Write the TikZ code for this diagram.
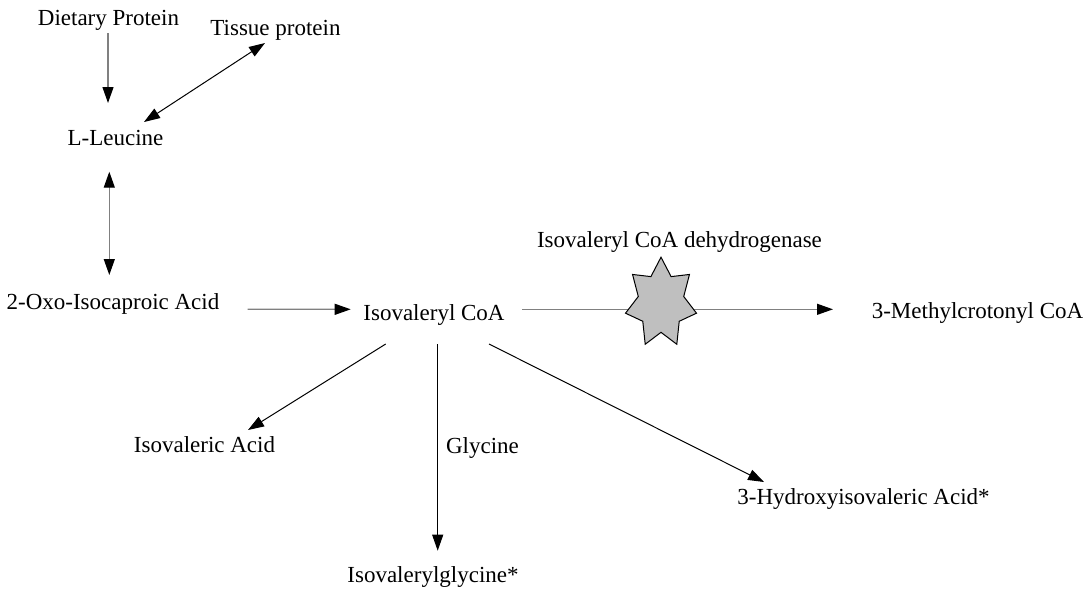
\documentclass[tikz,border=0pt]{standalone}
\usepackage{fontspec}
\setmainfont{Liberation Serif}
\usetikzlibrary{arrows.meta, calc}

\begin{document}
\begin{tikzpicture}[x=0.5pt,y=-0.5pt,
  every node/.style={font=\fontsize{11.5}{14}\selectfont,text height=1.5ex+2pt,text depth=.25ex},
  gline/.style={draw=gray,line width=0.6pt},
  bline/.style={draw=black,line width=0.5pt},
  tip/.style={-{Triangle[length=8pt,width=5.5pt,black]}},
  tips/.style={{Triangle[length=8pt,width=5.5pt,black]}-{Triangle[length=8pt,width=5.5pt,black]}},
  enzstar/.style={draw=black,fill=black!25,line width=0.5pt}]
  \useasboundingbox (0,0) rectangle (1090,591);
  \path (108.5,17.5) node (diet) {Dietary Protein} (275.5,27.5) node (tis) {Tissue protein}
  (115.5,137.5) node (leu) {L-Leucine} (113,302) node (oxo) {2-Oxo-Isocaproic Acid}
  (434,313) node (ivcoa) {Isovaleryl CoA} (977.5,311) node (mcc) {3-Methylcrotonyl CoA};
  \path (679.5,240) node (ivd) {Isovaleryl CoA dehydrogenase} (661,303) coordinate (star);
  \path (204.5,445) node (iva) {Isovaleric Acid} (482.5,446) node (gly) {Glycine}
  (863.5,497) node (hiva) {3-Hydroxyisovaleric Acid*} (433,575) node (ivg) {Isovalerylglycine*};
  \draw[gline,tip] ($(diet)+(-0.5,15.5)$) -- ($(leu)+(-7.5,-34.5)$);
  \draw[bline,tips] ($(leu)+(28.5,-15.5)$) -- ($(tis)+(-10.5,15.5)$);
  \draw[gline,tips] ($(leu)+(-6.2,34.2)$) -- ($(oxo)+(-3.7,-27)$);
  \draw[gline,tip] ($(oxo)+(134.7,7.3)$) -- ($(ivcoa)+(-83.3,-3.7)$);
  \draw[gline,tip] ($(ivcoa)+(88,-3.7)$) -- ($(mcc)+(-144.5,-1.7)$);
  \draw[bline,tip] ($(ivcoa)+(-48.3,31)$) -- ($(iva)+(43.5,-15)$);
  \draw[bline,tip] ($(ivcoa)+(3.7,31)$) -- ($(ivg)+(4.7,-24.3)$);
  \draw[bline,tip] ($(ivcoa)+(55,31)$) -- ($(hiva)+(-99.5,-15)$);
  % enzyme star
  \begin{scope}[shift={(star)}]
    \filldraw[enzstar] (-90:36.4 and 45.8) \foreach \a in {1,...,6}{
      -- (-90+\a*51.43-25.71:23.3 and 29.3) -- (-90+\a*51.43:36.4 and 45.8)}
      -- (-115.71:23.3 and 29.3) -- cycle;
  \end{scope}
\end{tikzpicture}
\end{document}
